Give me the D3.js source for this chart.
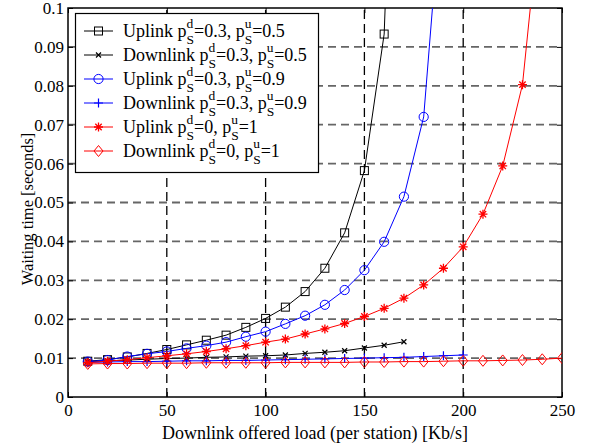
<!DOCTYPE html>
<html>
<head>
<meta charset="utf-8">
<script src="https://cdn.jsdelivr.net/npm/d3@7"></script>
<style>
  body { margin: 0; background: #fff; }
  text { font-family: "Liberation Serif", "DejaVu Serif", serif; }
</style>
</head>
<body>
<div class="container"></div>
<script>
const w = 595;
const h = 445;
const margin = { top: 8, left: 68, right: 33, bottom: 48 };
const serif = '"Liberation Serif", "DejaVu Serif", serif';

// offered load (Kb/s) per series
const loadUp1 = [10, 20, 30, 40, 50, 60, 70, 80, 90, 100, 110, 120, 130, 140, 150, 160, 170];
const loadDown1 = [10, 20, 30, 40, 50, 60, 70, 80, 90, 100, 110, 120, 130, 140, 150, 160, 170];
const loadUp2 = [10, 20, 30, 40, 50, 60, 70, 80, 90, 100, 110, 120, 130, 140, 150, 160, 170, 180, 190];
const loadDown2 = [10, 20, 30, 40, 50, 60, 70, 80, 90, 100, 110, 120, 130, 140, 150, 160, 170, 180, 190, 200];
const loadUp3 = [10, 20, 30, 40, 50, 60, 70, 80, 90, 100, 110, 120, 130, 140, 150, 160, 170, 180, 190, 200, 210, 220, 230, 240];
const loadDown3 = [10, 20, 30, 40, 50, 60, 70, 80, 90, 100, 110, 120, 130, 140, 150, 160, 170, 180, 190, 200, 210, 220, 230, 240, 250];

// waiting time (s)
const waitUp1 = [0.0092, 0.0096, 0.0103, 0.0112, 0.0122, 0.0134, 0.0146, 0.0159, 0.0179, 0.0202, 0.0231, 0.0271, 0.0331, 0.0422, 0.0582, 0.0933, 0.23];
const waitDown1 = [0.0091, 0.0093, 0.0095, 0.0097, 0.0099, 0.0100, 0.0102, 0.0103, 0.0105, 0.0106, 0.0108, 0.0112, 0.0115, 0.0119, 0.0126, 0.0133, 0.0142];
const waitUp2 = [0.0091, 0.0095, 0.0104, 0.0111, 0.0117, 0.0125, 0.0132, 0.0141, 0.0155, 0.0168, 0.0188, 0.0209, 0.0237, 0.0275, 0.0326, 0.0399, 0.0515, 0.0720, 0.135];
const waitDown2 = [0.0089, 0.0090, 0.0091, 0.0091, 0.0092, 0.0093, 0.0093, 0.0094, 0.0094, 0.0095, 0.0096, 0.0097, 0.0098, 0.0099, 0.0100, 0.0101, 0.0102, 0.0104, 0.0106, 0.0108];
const waitUp3 = [0.0088, 0.0092, 0.0096, 0.0101, 0.0106, 0.0111, 0.0117, 0.0124, 0.0132, 0.0141, 0.0149, 0.0162, 0.0175, 0.0189, 0.0207, 0.0228, 0.0254, 0.0288, 0.0331, 0.0386, 0.0470, 0.0594, 0.0803, 0.130];
const waitDown3 = [0.0085, 0.0086, 0.0086, 0.0087, 0.0087, 0.0087, 0.0088, 0.0088, 0.0088, 0.0088, 0.0089, 0.0089, 0.0089, 0.0089, 0.0090, 0.0090, 0.0091, 0.0091, 0.0092, 0.0093, 0.0093, 0.0094, 0.0095, 0.0097, 0.0100];

const xTicks = [0, 50, 100, 150, 200, 250];
const yTicks = [0, 0.01, 0.02, 0.03, 0.04, 0.05, 0.06, 0.07, 0.08, 0.09, 0.1];

const series = [
    { link: 'Uplink', pd: '0.3', pu: '0.5', color: '#000', marker: 'square', x: loadUp1, y: waitUp1 },
    { link: 'Downlink', pd: '0.3', pu: '0.5', color: '#000', marker: 'x', x: loadDown1, y: waitDown1 },
    { link: 'Uplink', pd: '0.3', pu: '0.9', color: '#0000ff', marker: 'circle', x: loadUp2, y: waitUp2 },
    { link: 'Downlink', pd: '0.3', pu: '0.9', color: '#0000ff', marker: 'plus', x: loadDown2, y: waitDown2 },
    { link: 'Uplink', pd: '0', pu: '1', color: '#ff0000', marker: 'star', x: loadUp3, y: waitUp3 },
    { link: 'Downlink', pd: '0', pu: '1', color: '#ff0000', marker: 'diamond', x: loadDown3, y: waitDown3 },
];

const svg = d3.select('.container')
    .append('svg')
    .attr('width', w)
    .attr('height', h);

const xScale = d3.scaleLinear().domain([0, 250]).range([margin.left, w - margin.right]);
const yScale = d3.scaleLinear().domain([0, 0.1]).range([h - margin.bottom, margin.top]);
const x0 = xScale(0), x1 = xScale(250), y0 = yScale(0), y1 = yScale(0.1);

// grid
svg.append('g')
    .selectAll('line')
    .data(yTicks.slice(1, -1))
    .join('line')
    .attr('x1', x0).attr('x2', x1)
    .attr('y1', d => yScale(d)).attr('y2', d => yScale(d))
    .attr('stroke', '#666')
    .attr('stroke-width', 1.8)
    .attr('stroke-dasharray', '8,5');

svg.append('g')
    .selectAll('line')
    .data(xTicks.slice(1, -1))
    .join('line')
    .attr('x1', d => xScale(d)).attr('x2', d => xScale(d))
    .attr('y1', y0).attr('y2', y1)
    .attr('stroke', '#000')
    .attr('stroke-width', 1.3)
    .attr('stroke-dasharray', '9,5');

// axes: ticks inside on all sides
const tickLen = 5;
svg.append('g')
    .attr('transform', `translate(0, ${y0})`)
    .call(d3.axisBottom(xScale).tickValues(xTicks).tickSize(-tickLen).tickPadding(7).tickFormat(d3.format('d')))
    .call(g => g.select('.domain').remove());
svg.append('g')
    .attr('transform', `translate(0, ${y1})`)
    .call(d3.axisTop(xScale).tickValues(xTicks).tickSize(-tickLen).tickFormat(''))
    .call(g => g.select('.domain').remove());
svg.append('g')
    .attr('transform', `translate(${x0}, 0)`)
    .call(d3.axisLeft(yScale).tickValues(yTicks).tickSize(-tickLen).tickPadding(4).tickFormat(d => d === 0 ? '0' : String(+d.toFixed(2))))
    .call(g => g.select('.domain').remove());
svg.append('g')
    .attr('transform', `translate(${x1}, 0)`)
    .call(d3.axisRight(yScale).tickValues(yTicks).tickSize(-tickLen).tickFormat(''))
    .call(g => g.select('.domain').remove());

svg.selectAll('.tick line').attr('stroke', '#000').attr('stroke-width', 1);
svg.selectAll('.tick text')
    .attr('font-family', serif)
    .style('font-size', '17px')
    .attr('fill', '#000');

svg.append('rect')
    .attr('x', x0).attr('y', y1)
    .attr('width', x1 - x0).attr('height', y0 - y1)
    .attr('fill', 'none')
    .attr('stroke', '#000')
    .attr('stroke-width', 1.5);

// labels
svg.append('text')
    .text('Downlink offered load (per station) [Kb/s]')
    .attr('x', (x0 + x1) / 2)
    .attr('y', 439)
    .attr('text-anchor', 'middle')
    .style('font-size', '18px');

svg.append('text')
    .text('Waiting time [seconds]')
    .attr('transform', `translate(33, 209) rotate(-90)`)
    .attr('text-anchor', 'middle')
    .style('font-size', '16.5px');

// markers
const drawMarker = (g, type, color, cx, cy) => {
    const s = 4;
    if (type === 'square') {
        g.append('rect').attr('x', cx - s).attr('y', cy - s).attr('width', 2 * s).attr('height', 2 * s)
            .attr('fill', 'none').attr('stroke', color);
    } else if (type === 'circle') {
        g.append('circle').attr('cx', cx).attr('cy', cy).attr('r', 4.6)
            .attr('fill', 'none').attr('stroke', color);
    } else if (type === 'diamond') {
        g.append('path').attr('d', `M${cx},${cy - 5.5}L${cx + 4.5},${cy}L${cx},${cy + 5.5}L${cx - 4.5},${cy}Z`)
            .attr('fill', 'none').attr('stroke', color);
    } else if (type === 'x') {
        g.append('path').attr('d', `M${cx - 2.5},${cy - 2.5}L${cx + 2.5},${cy + 2.5}M${cx - 2.5},${cy + 2.5}L${cx + 2.5},${cy - 2.5}`)
            .attr('stroke', color).attr('stroke-width', 1.2);
    } else if (type === 'plus') {
        g.append('path').attr('d', `M${cx - 4.5},${cy}L${cx + 4.5},${cy}M${cx},${cy - 4.5}L${cx},${cy + 4.5}`)
            .attr('stroke', color).attr('stroke-width', 1.2);
    } else if (type === 'star') {
        const r = 4.5, d = 3.2;
        g.append('path').attr('d', `M${cx - r},${cy}L${cx + r},${cy}M${cx},${cy - r}L${cx},${cy + r}M${cx - d},${cy - d}L${cx + d},${cy + d}M${cx - d},${cy + d}L${cx + d},${cy - d}`)
            .attr('stroke', color).attr('stroke-width', 1.3);
    }
};

svg.append('clipPath').attr('id', 'plot-clip')
    .append('rect')
    .attr('x', x0).attr('y', y1)
    .attr('width', x1 - x0).attr('height', y0 - y1);

const plot = svg.append('g').attr('clip-path', 'url(#plot-clip)');
const line = d3.line().x(d => xScale(d[0])).y(d => yScale(d[1]));

series.forEach(s => {
    const pts = s.x.map((v, i) => [v, s.y[i]]);
    const g = plot.append('g');
    g.append('path')
        .attr('d', line(pts))
        .attr('fill', 'none')
        .attr('stroke', s.color)
        .attr('stroke-width', 1);
    pts.forEach(p => drawMarker(g, s.marker, s.color, xScale(p[0]), yScale(p[1])));
});

// legend
const legend = svg.append('g');
legend.append('rect')
    .attr('x', 75.5).attr('y', 13.5)
    .attr('width', 243).attr('height', 159)
    .attr('fill', '#fff')
    .attr('stroke', '#000')
    .attr('stroke-width', 1.2);

// one text element per entry, sup/sub stacked with absolute tspans
const richText = (g, x, y, parts) => {
    const t = g.append('text').attr('x', x).attr('y', y);
    let cx = x;
    parts.forEach(p => {
        if (typeof p === 'string') {
            const ts = t.append('tspan').attr('x', cx).attr('y', y).style('font-size', '18px').text(p);
            cx += ts.node().getComputedTextLength();
        } else {
            const a = t.append('tspan').attr('x', cx).attr('y', y - 9).style('font-size', '13.5px').text(p.sup);
            const b = t.append('tspan').attr('x', cx).attr('y', y + 7).style('font-size', '13.5px').text(p.sub);
            cx += Math.max(a.node().getComputedTextLength(), b.node().getComputedTextLength());
        }
    });
};

series.forEach((s, i) => {
    const ry = 31 + i * 24;
    legend.append('line')
        .attr('x1', 84).attr('x2', 113)
        .attr('y1', ry).attr('y2', ry)
        .attr('stroke', s.color);
    drawMarker(legend, s.marker, s.color, 98.5, ry);
    richText(legend, 123, ry + 6, [
        `${s.link} p`, { sup: 'd', sub: 'S' }, `=${s.pd}, p`, { sup: 'u', sub: 'S' }, `=${s.pu}`
    ]);
});
</script>
</body>
</html>
